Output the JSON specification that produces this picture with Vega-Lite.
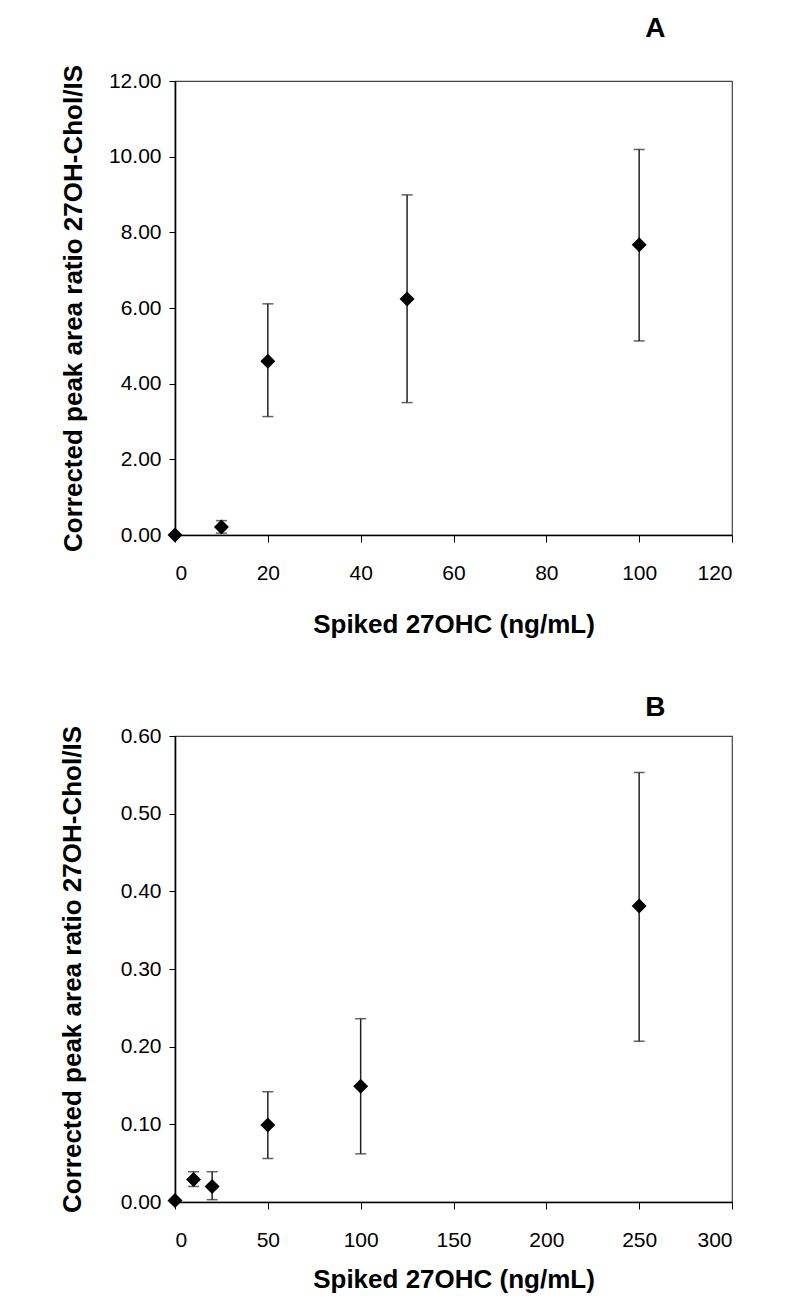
{
  "$schema": "https://vega.github.io/schema/vega-lite/v6.json",
  "background": "white",
  "padding": {"left": 58, "top": 13, "right": 34, "bottom": 10},
  "bounds": "flush",
  "spacing": 201,
  "datasets": {
    "a": [
      {"x": 0, "y": 0.0, "lo": null, "hi": null},
      {"x": 10, "y": 0.21, "lo": 0.05, "hi": 0.38},
      {"x": 20, "y": 4.59, "lo": 3.13, "hi": 6.11},
      {"x": 50, "y": 6.24, "lo": 3.5, "hi": 8.99},
      {"x": 100, "y": 7.67, "lo": 5.13, "hi": 10.19}
    ],
    "b": [
      {"x": 0, "y": 0.002, "lo": null, "hi": null},
      {"x": 10, "y": 0.029, "lo": 0.02, "hi": 0.039},
      {"x": 20, "y": 0.02, "lo": 0.003, "hi": 0.039},
      {"x": 50, "y": 0.099, "lo": 0.056, "hi": 0.142},
      {"x": 100, "y": 0.149, "lo": 0.062, "hi": 0.236},
      {"x": 250, "y": 0.381, "lo": 0.207, "hi": 0.553}
    ]
  },
  "config": {
    "font": "Liberation Sans",
    "view": {"stroke": "#444", "strokeWidth": 1.2},
    "axis": {
      "grid": false,
      "domainColor": "#000",
      "domainWidth": 1.6,
      "tickColor": "#000",
      "tickWidth": 1,
      "labelFont": "Liberation Sans",
      "labelFontSize": 21,
      "labelColor": "#000",
      "titleFont": "Liberation Sans",
      "titleFontSize": 26,
      "titleFontWeight": "bold",
      "titleColor": "#000"
    },
    "axisX": {"tickSize": 7, "labelPadding": 20},
    "axisY": {"tickSize": 6, "labelPadding": 8}
  },
  "vconcat": [
    {
      "width": 557,
      "height": 454,
      "title": {"text": "A", "anchor": "end", "fontSize": 28, "fontWeight": "bold", "font": "Liberation Sans", "color": "#000", "dx": -67, "offset": 22},
      "data": {"name": "a"},
      "encoding": {
        "x": {"field": "x", "type": "quantitative", "scale": {"domain": [0, 120], "nice": false},
              "axis": {"values": [0, 20, 40, 60, 80, 100, 120], "title": "Spiked 27OHC (ng/mL)", "titlePadding": 28}}
      },
      "layer": [
        {
          "transform": [{"filter": "datum.lo != null"}],
          "mark": {"type": "rule", "color": "#222", "strokeWidth": 1.5},
          "encoding": {
            "y": {"field": "lo", "type": "quantitative", "scale": {"domain": [0, 12], "nice": false},
                  "axis": {"values": [0, 2, 4, 6, 8, 10, 12], "format": ".2f", "title": "Corrected peak area ratio 27OH-Chol/IS", "titlePadding": 22}},
            "y2": {"field": "hi"}
          }
        },
        {
          "transform": [{"filter": "datum.lo != null"}],
          "mark": {"type": "tick", "orient": "horizontal", "color": "#222", "size": 11, "thickness": 1.5},
          "encoding": {"y": {"field": "lo", "type": "quantitative"}}
        },
        {
          "transform": [{"filter": "datum.lo != null"}],
          "mark": {"type": "tick", "orient": "horizontal", "color": "#222", "size": 11, "thickness": 1.5},
          "encoding": {"y": {"field": "hi", "type": "quantitative"}}
        },
        {
          "mark": {"type": "point", "shape": "diamond", "filled": true, "color": "#000", "size": 225, "opacity": 1},
          "encoding": {"y": {"field": "y", "type": "quantitative"}}
        }
      ]
    },
    {
      "width": 557,
      "height": 466,
      "title": {"text": "B", "anchor": "end", "fontSize": 28, "fontWeight": "bold", "font": "Liberation Sans", "color": "#000", "dx": -67, "offset": 3},
      "data": {"name": "b"},
      "encoding": {
        "x": {"field": "x", "type": "quantitative", "scale": {"domain": [0, 300], "nice": false},
              "axis": {"values": [0, 50, 100, 150, 200, 250, 300], "title": "Spiked 27OHC (ng/mL)", "titlePadding": 16}}
      },
      "layer": [
        {
          "transform": [{"filter": "datum.lo != null"}],
          "mark": {"type": "rule", "color": "#222", "strokeWidth": 1.5},
          "encoding": {
            "y": {"field": "lo", "type": "quantitative", "scale": {"domain": [0, 0.6], "nice": false},
                  "axis": {"values": [0, 0.1, 0.2, 0.3, 0.4, 0.5, 0.6], "format": ".2f", "title": "Corrected peak area ratio 27OH-Chol/IS", "titlePadding": 35}},
            "y2": {"field": "hi"}
          }
        },
        {
          "transform": [{"filter": "datum.lo != null"}],
          "mark": {"type": "tick", "orient": "horizontal", "color": "#222", "size": 11, "thickness": 1.5},
          "encoding": {"y": {"field": "lo", "type": "quantitative"}}
        },
        {
          "transform": [{"filter": "datum.lo != null"}],
          "mark": {"type": "tick", "orient": "horizontal", "color": "#222", "size": 11, "thickness": 1.5},
          "encoding": {"y": {"field": "hi", "type": "quantitative"}}
        },
        {
          "mark": {"type": "point", "shape": "diamond", "filled": true, "color": "#000", "size": 225, "opacity": 1},
          "encoding": {"y": {"field": "y", "type": "quantitative"}}
        }
      ]
    }
  ]
}
